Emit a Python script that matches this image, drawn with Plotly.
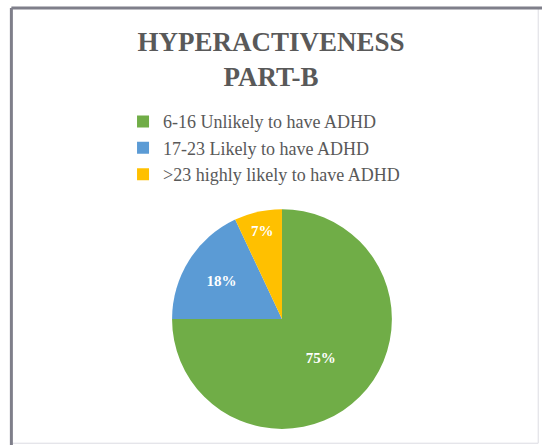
import plotly.graph_objects as go

labels = ["6-16 Unlikely to have ADHD", "17-23 Likely to have ADHD", ">23 highly likely to have ADHD"]
values = [75, 18, 7]
colors = ["#70AD47", "#5B9BD5", "#FFC000"]
title_lines = ["HYPERACTIVENESS", "PART-B"]

serif = "Liberation Serif, DejaVu Serif, serif"

fig = go.Figure()
fig.add_trace(go.Pie(
    labels=labels,
    values=values,
    marker=dict(colors=colors, line=dict(color="rgba(0,0,0,0)", width=0)),
    sort=False,
    direction="clockwise",
    rotation=0,
    texttemplate="<b>%{percent:.0%}</b>",
    textposition="inside",
    insidetextorientation="horizontal",
    textfont=dict(family=serif, size=15, color="white"),
    domain=dict(x=[0.3173, 0.7232], y=[0.036, 0.530]),
    hoverinfo="label+percent",
))

fig.update_layout(
    width=542, height=445,
    margin=dict(l=0, r=0, t=0, b=0),
    paper_bgcolor="white",
    plot_bgcolor="white",
    title=dict(
        text="<b>" + "<br>".join(title_lines) + "</b>",
        x=0.5, xanchor="center",
        y=0.886, yanchor="top",
        font=dict(family=serif, size=27, color="#595959"),
    ),
    showlegend=True,
    legend=dict(
        x=0.227, xanchor="left",
        y=0.768, yanchor="top",
        font=dict(family=serif, size=18, color="#595959"),
        bgcolor="rgba(0,0,0,0)",
        itemclick=False,
    ),
    shapes=[
        dict(type="rect", xref="paper", yref="paper", x0=0.021, x1=0.993, y0=0.004, y1=0.982,
             line=dict(color="#dcdce2", width=1), layer="above"),
        dict(type="line", xref="paper", yref="paper", x0=0.021, x1=1.0, y0=0.982, y1=0.982,
             line=dict(color="#7f7f8a", width=3), layer="above"),
        dict(type="line", xref="paper", yref="paper", x0=0.021, x1=0.021, y0=0.0, y1=0.982,
             line=dict(color="#7f7f8a", width=3), layer="above"),
    ],
)

fig.write_html("out.html", config={"displayModeBar": False},
               post_script="document.body.style.margin='0';")
